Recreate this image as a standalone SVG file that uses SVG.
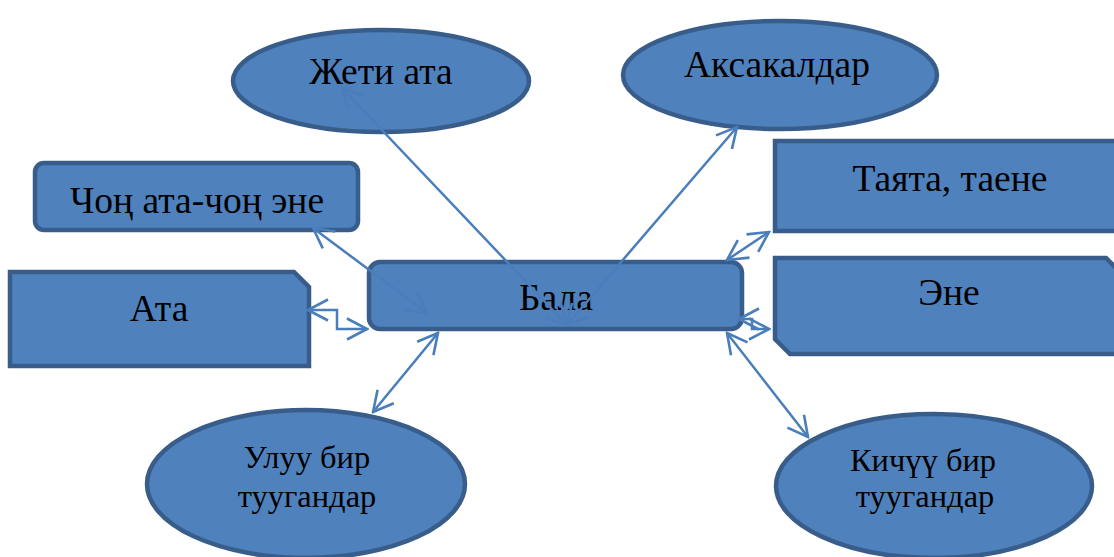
<svg xmlns="http://www.w3.org/2000/svg" width="1114" height="557" viewBox="0 0 1114 557">
<defs>
<style>
.n{fill:#4F81BD;stroke:#385D8A;stroke-width:4.5}
.t{font-family:"Liberation Serif","Times New Roman",serif;fill:#000;text-anchor:middle}
.big{font-size:37.5px}
.sm{font-size:32.5px}
.c{fill:none;stroke:#4A7EBB;stroke-width:2.5;marker-start:url(#ah);marker-end:url(#ah)}
</style>
<marker id="ah" markerUnits="userSpaceOnUse" viewBox="0 0 24 24" refX="22" refY="12" markerWidth="24" markerHeight="24" orient="auto-start-reverse">
<path d="M2,1.5 L22,12 L2,22.5" fill="none" stroke="#4A7EBB" stroke-width="2.6"/>
</marker>
</defs>
<rect width="1114" height="557" fill="#fff"/>
<g id="zheti-ata">
<ellipse class="n" cx="381" cy="81" rx="148" ry="51"/>
<text class="t big" x="381" y="84">Жети ата</text>
</g>
<g id="aksakaldar">
<ellipse class="n" cx="780" cy="75" rx="157" ry="54"/>
<text class="t big" x="777" y="77">Аксакалдар</text>
</g>
<g id="chong-ata">
<rect class="n" x="35" y="163" width="323" height="67" rx="9"/>
<text class="t big" x="197" y="213">Чоң ата-чоң эне</text>
</g>
<g id="ata">
<path class="n" d="M10,272 H294 L309,287 V366 H10 Z"/>
<text class="t big" x="159" y="321">Ата</text>
</g>
<g id="bala">
<rect class="n" x="369" y="262" width="373" height="67" rx="11"/>
<text class="t big" x="556" y="310">Бала</text>
</g>
<g id="tayata">
<rect class="n" x="775" y="141" width="345" height="90"/>
<text class="t big" x="950" y="191">Таята, таене</text>
</g>
<g id="ene">
<path class="n" d="M775,258 H1106 L1121,273 V354 H790 L775,339 Z"/>
<text class="t big" x="949" y="305">Эне</text>
</g>
<g id="uluu">
<ellipse class="n" cx="306" cy="484" rx="159" ry="74"/>
<text class="t sm" x="307" y="468">Улуу бир</text>
<text class="t sm" x="307" y="507">туугандар</text>
</g>
<g id="kichuu">
<ellipse class="n" cx="934" cy="486" rx="158" ry="72"/>
<text class="t sm" x="923" y="471">Кичүү бир</text>
<text class="t sm" x="925" y="507">туугандар</text>
</g>
<g id="connectors">
<line class="c" x1="342" y1="88" x2="567" y2="325"/>
<line class="c" x1="737" y1="127" x2="567" y2="325"/>
<line class="c" x1="313" y1="228" x2="427" y2="313"/>
<polyline class="c" points="308,310 337,310 337,329 367,329"/>
<line class="c" x1="438" y1="333" x2="373" y2="412"/>
<line class="c" x1="769" y1="232" x2="727" y2="260"/>
<polyline class="c" points="739,319 752,319 752,329 769,329"/>
<line class="c" x1="727" y1="333" x2="808" y2="437"/>
</g>
</svg>
